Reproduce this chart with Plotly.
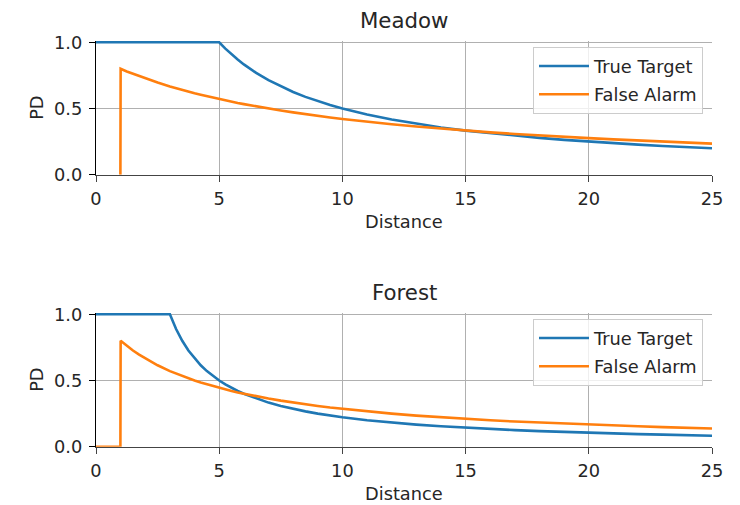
import plotly.graph_objects as go

distance = [0, 0.5, 0.99, 1, 1.25, 1.5, 1.75, 2, 2.5, 3, 3.25, 3.5, 3.75, 4, 4.25, 4.5, 4.75, 5, 5.25, 5.5,
            5.75, 6, 6.5, 7, 7.5, 8, 8.5, 9, 9.5, 10, 11, 12, 13, 14, 15, 16, 17, 18, 19, 20, 21, 22, 23, 24, 25]

meadow_true = [1, 1, 1, 1, 1, 1, 1, 1, 1, 1, 1, 1, 1, 1, 1, 1, 1, 1, 0.952, 0.909, 0.870, 0.833, 0.769, 0.714,
               0.667, 0.625, 0.588, 0.556, 0.526, 0.5, 0.455, 0.417, 0.385, 0.357, 0.333, 0.313, 0.294, 0.278,
               0.263, 0.25, 0.238, 0.227, 0.217, 0.208, 0.2]
meadow_false = [None, None, 0, 0.8, 0.780, 0.762, 0.744, 0.727, 0.696, 0.667, 0.653, 0.64, 0.627, 0.615, 0.604,
                0.593, 0.582, 0.571, 0.561, 0.552, 0.542, 0.533, 0.516, 0.5, 0.485, 0.471, 0.457, 0.444, 0.432,
                0.421, 0.4, 0.381, 0.364, 0.348, 0.333, 0.32, 0.308, 0.296, 0.286, 0.276, 0.267, 0.258, 0.25,
                0.242, 0.235]
forest_true = [1, 1, 1, 1, 1, 1, 1, 1, 1, 1, 0.889, 0.8, 0.727, 0.667, 0.615, 0.571, 0.533, 0.5, 0.471, 0.444,
               0.421, 0.4, 0.364, 0.333, 0.308, 0.286, 0.267, 0.25, 0.235, 0.222, 0.2, 0.182, 0.167, 0.154, 0.143,
               0.133, 0.125, 0.118, 0.111, 0.105, 0.1, 0.095, 0.091, 0.087, 0.083]
forest_false = [0, 0, 0, 0.8, 0.762, 0.727, 0.696, 0.667, 0.615, 0.571, 0.552, 0.533, 0.516, 0.5, 0.485, 0.471,
                0.457, 0.444, 0.432, 0.421, 0.410, 0.4, 0.381, 0.364, 0.348, 0.333, 0.32, 0.308, 0.296, 0.286,
                0.267, 0.25, 0.235, 0.222, 0.211, 0.2, 0.190, 0.182, 0.174, 0.167, 0.16, 0.154, 0.148, 0.143, 0.138]

titles = ["Meadow", "Forest"]
series_names = ["True Target", "False Alarm"]
colors = ["#1f77b4", "#ff7f0e"]
x_ticks = [0, 5, 10, 15, 20, 25]
y_ticks = [0, 0.5, 1.0]
y_ticklabels = ["0.0", "0.5", "1.0"]

W, H = 740, 505
FONT = "DejaVu Sans"
TXT = "#262626"
FS = 17.8
FS_TITLE = 21.3

def py(p):
    return 1 - p / H

x_left, x_right = 96, 712
panels = [(41.0, 174.7), (313.0, 446.7)]

fig = go.Figure()
data = [(meadow_true, meadow_false), (forest_true, forest_false)]
for i, (tt, fa) in enumerate(data):
    xa = "x" if i == 0 else "x2"
    ya = "y" if i == 0 else "y2"
    leg = "legend" if i == 0 else "legend2"
    for j, (name, vals, c) in enumerate(zip(series_names, (tt, fa), colors)):
        fig.add_trace(go.Scatter(x=distance, y=vals, mode="lines", name=name,
                                 line=dict(color=c, width=2.6), xaxis=xa, yaxis=ya,
                                 legend=leg, legendgroup=f"g{i}{j}", connectgaps=False))

axis_common = dict(showgrid=True, gridcolor="#b0b0b0", gridwidth=1.3, zeroline=False,
                   ticks="outside", ticklen=6, tickwidth=1.3, showline=True, linewidth=1.3,
                   automargin=False, tickfont=dict(family=FONT, size=FS, color=TXT))

layout = dict(width=W, height=H, margin=dict(l=0, r=0, t=0, b=0, pad=0, autoexpand=False),
              autosize=False, plot_bgcolor="white", paper_bgcolor="white", showlegend=True,
              font=dict(family=FONT, size=FS, color=TXT))

for i, (top, bot) in enumerate(panels):
    sfx = "" if i == 0 else "2"
    layout["xaxis" + sfx] = dict(axis_common, domain=[x_left / W, x_right / W], range=[0, 25],
                                 tickvals=x_ticks, linecolor="#444", tickcolor="#444",
                                 anchor="y" + sfx, layer="below traces", ticklabelstandoff=2)
    layout["yaxis" + sfx] = dict(axis_common, domain=[py(bot), py(top)], range=[0, 1.01],
                                 tickvals=y_ticks, ticktext=y_ticklabels, linecolor="black",
                                 tickcolor="black", anchor="x" + sfx, ticklabelstandoff=3)

legend_common = dict(bgcolor="rgba(255,255,255,0.8)", bordercolor="#cccccc", borderwidth=1,
                     font=dict(family=FONT, size=FS, color=TXT), xanchor="right", yanchor="top",
                     x=703 / W, itemwidth=50, tracegroupgap=2)
layout["legend"] = dict(legend_common, y=py(47))
layout["legend2"] = dict(legend_common, y=py(319))

fig.update_layout(**layout)

xc = (x_left + x_right) / 2 / W
for i, (top, bot) in enumerate(panels):
    fig.add_annotation(text=titles[i], x=xc, y=py(top - 21), xref="paper", yref="paper",
                       showarrow=False, font=dict(family=FONT, size=FS_TITLE, color=TXT),
                       xanchor="center", yanchor="middle")
    fig.add_annotation(text="Distance", x=xc, y=py(bot + 47), xref="paper", yref="paper",
                       showarrow=False, font=dict(family=FONT, size=FS, color=TXT),
                       xanchor="center", yanchor="middle")
    fig.add_annotation(text="PD", x=37 / W, y=py((top + bot) / 2), xref="paper", yref="paper",
                       showarrow=False, textangle=-90, font=dict(family=FONT, size=FS, color=TXT),
                       xanchor="center", yanchor="middle")

fig.write_html("out.html")
